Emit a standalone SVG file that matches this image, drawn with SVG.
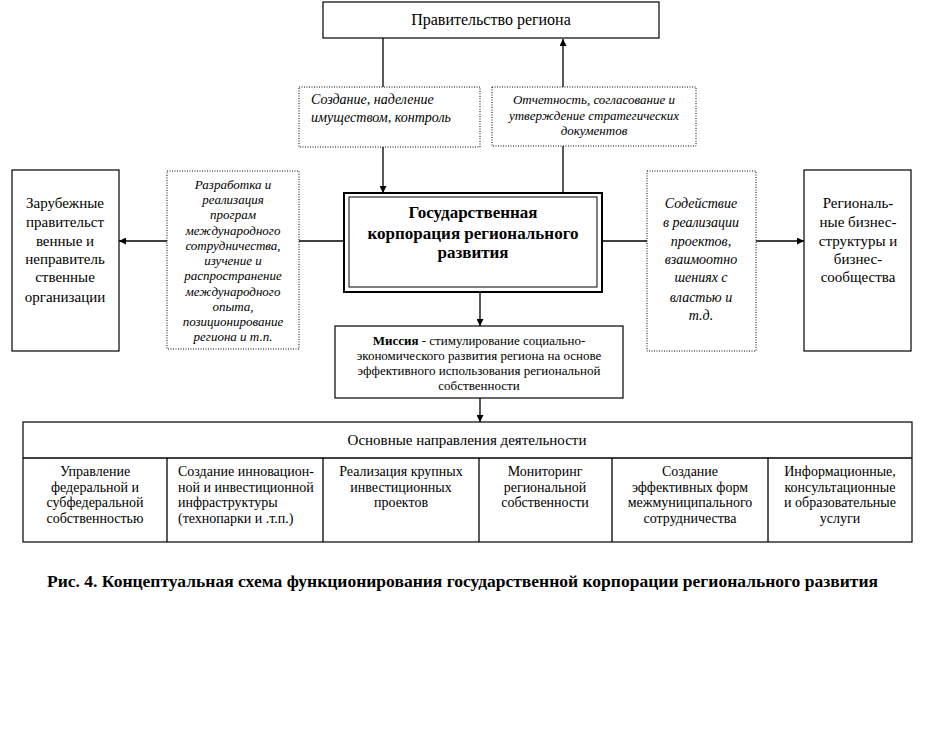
<svg xmlns="http://www.w3.org/2000/svg" width="936" height="747" viewBox="0 0 936 747">
<style>
text{font-family:"Liberation Serif","Times New Roman",serif;fill:#000}
.box{fill:#fff;stroke:#000;stroke-width:1.2}
.dot{fill:#fff;stroke:#000;stroke-width:1;stroke-dasharray:1 1.5}
.ln{fill:none;stroke:#000;stroke-width:1.3}
.c{text-anchor:middle}
.it{font-style:italic}
.n15{font-size:15px}
.n14{font-size:14px}
.n13{font-size:13px}
.i14{font-size:14px;font-style:italic}
.i13{font-size:13px;font-style:italic}
</style>
<defs>
<marker id="ah" viewBox="0 0 10 10" refX="10" refY="5" markerWidth="7" markerHeight="7" markerUnits="userSpaceOnUse" orient="auto">
<path d="M0,0 L10,5 L0,10 z" fill="#000"/>
</marker>
</defs>
<rect width="936" height="747" fill="#fff"/>

<g id="connectors">
<line class="ln" x1="383" y1="38" x2="383" y2="87"/>
<line class="ln" x1="383" y1="147" x2="383" y2="193" marker-end="url(#ah)"/>
<line class="ln" x1="563" y1="193" x2="563" y2="146"/>
<line class="ln" x1="563" y1="87" x2="563" y2="39" marker-end="url(#ah)"/>
<line class="ln" x1="344" y1="241" x2="299" y2="241"/>
<line class="ln" x1="167" y1="241" x2="119" y2="241" marker-end="url(#ah)"/>
<line class="ln" x1="602" y1="241" x2="647" y2="241"/>
<line class="ln" x1="756" y1="241" x2="804" y2="241" marker-end="url(#ah)"/>
<line class="ln" x1="480" y1="292" x2="480" y2="326" marker-end="url(#ah)"/>
<line class="ln" x1="480" y1="398" x2="480" y2="422" marker-end="url(#ah)"/>
</g>

<g id="gov">
<rect class="box" x="323" y="2" width="336" height="36"/>
<text class="c" x="491" y="25" font-size="16">Правительство региона</text>
</g>

<g id="label-create">
<rect class="dot" x="299" y="87" width="181" height="60"/>
<text class="i14" x="311" y="104">Создание, наделение</text>
<text class="i14" x="311" y="122">имуществом, контроль</text>
</g>

<g id="label-report">
<rect class="dot" x="492" y="87" width="204" height="59"/>
<text class="i13 c" x="594" y="104">Отчетность, согласование и</text>
<text class="i13 c" x="594" y="120">утверждение  стратегических</text>
<text class="i13 c" x="594" y="135">документов</text>
</g>

<g id="foreign">
<rect class="box" x="12" y="170" width="107" height="181"/>
<text class="n15 c" x="65" y="208">Зарубежные</text>
<text class="n15 c" x="65" y="227">правительст</text>
<text class="n15 c" x="65" y="246">венные и</text>
<text class="n15 c" x="65" y="264">неправитель</text>
<text class="n15 c" x="65" y="282">ственные</text>
<text class="n15 c" x="65" y="302">организации</text>
</g>

<g id="label-intl">
<rect class="dot" x="167" y="171" width="132" height="178"/>
<text class="i13 c" x="233" y="189">Разработка и</text>
<text class="i13 c" x="233" y="204">реализация</text>
<text class="i13 c" x="233" y="219">програм</text>
<text class="i13 c" x="233" y="235">международного</text>
<text class="i13 c" x="233" y="250">сотрудничества,</text>
<text class="i13 c" x="233" y="265">изучение и</text>
<text class="i13 c" x="233" y="280">распространение</text>
<text class="i13 c" x="233" y="296">международного</text>
<text class="i13 c" x="233" y="311">опыта,</text>
<text class="i13 c" x="233" y="326">позиционирование</text>
<text class="i13 c" x="233" y="341">региона  и т.п.</text>
</g>

<g id="corp">
<rect x="344" y="193" width="258" height="99" fill="#fff" stroke="#000" stroke-width="2"/>
<rect x="349" y="197" width="248" height="90" fill="none" stroke="#000" stroke-width="1"/>
<text class="c" x="473" y="218" font-size="17" font-weight="bold">Государственная</text>
<text class="c" x="473" y="239" font-size="17" font-weight="bold">корпорация регионального</text>
<text class="c" x="473" y="258" font-size="17" font-weight="bold">развития</text>
</g>

<g id="label-assist">
<rect class="dot" x="647" y="171" width="109" height="180"/>
<text class="i14 c" x="701" y="208">Содействие</text>
<text class="i14 c" x="701" y="227">в реализации</text>
<text class="i14 c" x="701" y="246">проектов,</text>
<text class="i14 c" x="701" y="264">взаимоотно</text>
<text class="i14 c" x="701" y="282">шениях с</text>
<text class="i14 c" x="701" y="302">властью и</text>
<text class="i14 c" x="701" y="320">т.д.</text>
</g>

<g id="business">
<rect class="box" x="804" y="170" width="107" height="181"/>
<text class="n15 c" x="858" y="208">Региональ-</text>
<text class="n15 c" x="858" y="227">ные бизнес-</text>
<text class="n15 c" x="858" y="246">структуры и</text>
<text class="n15 c" x="858" y="264">бизнес-</text>
<text class="n15 c" x="858" y="282">сообщества</text>
</g>

<g id="mission">
<rect class="box" x="335" y="326" width="288" height="72"/>
<text class="n13 c" x="479" y="345"><tspan font-weight="bold">Миссия</tspan> - стимулирование социально-</text>
<text class="n13 c" x="479" y="360">экономического развития региона на основе</text>
<text class="n13 c" x="479" y="375">эффективного использования региональной</text>
<text class="n13 c" x="479" y="390">собственности</text>
</g>

<g id="directions">
<rect class="box" x="23" y="422" width="889" height="120"/>
<line class="ln" x1="23" y1="458" x2="912" y2="458" stroke-width="1.2"/>
<line class="ln" x1="167" y1="458" x2="167" y2="542" stroke-width="1.2"/>
<line class="ln" x1="323" y1="458" x2="323" y2="542" stroke-width="1.2"/>
<line class="ln" x1="479" y1="458" x2="479" y2="542" stroke-width="1.2"/>
<line class="ln" x1="612" y1="458" x2="612" y2="542" stroke-width="1.2"/>
<line class="ln" x1="768" y1="458" x2="768" y2="542" stroke-width="1.2"/>
<text class="c" x="467" y="445" font-size="15">Основные направления деятельности</text>
<text class="n14 c" x="95" y="476">Управление</text>
<text class="n14 c" x="95" y="492">федеральной и</text>
<text class="n14 c" x="95" y="507">субфедеральной</text>
<text class="n14 c" x="95" y="523">собственностью</text>
<text class="n14" x="178" y="476">Создание инновацион-</text>
<text class="n14" x="178" y="492">ной и инвестиционной</text>
<text class="n14" x="178" y="507">инфраструктуры</text>
<text class="n14" x="178" y="523">(технопарки и .т.п.)</text>
<text class="n14 c" x="401" y="476">Реализация крупных</text>
<text class="n14 c" x="401" y="492">инвестиционных</text>
<text class="n14 c" x="401" y="507">проектов</text>
<text class="n14 c" x="545" y="476">Мониторинг</text>
<text class="n14 c" x="545" y="492">региональной</text>
<text class="n14 c" x="545" y="507">собственности</text>
<text class="n14 c" x="690" y="476">Создание</text>
<text class="n14 c" x="690" y="492">эффективных форм</text>
<text class="n14 c" x="690" y="507">межмуниципального</text>
<text class="n14 c" x="690" y="523">сотрудничества</text>
<text class="n14 c" x="840" y="476">Информационные,</text>
<text class="n14 c" x="840" y="492">консультационные</text>
<text class="n14 c" x="840" y="507">и образовательные</text>
<text class="n14 c" x="840" y="523">услуги</text>
</g>

<text id="caption" x="47" y="587" font-size="17" font-weight="bold" textLength="831" lengthAdjust="spacingAndGlyphs">Рис. 4. Концептуальная схема функционирования государственной корпорации регионального развития</text>
</svg>
